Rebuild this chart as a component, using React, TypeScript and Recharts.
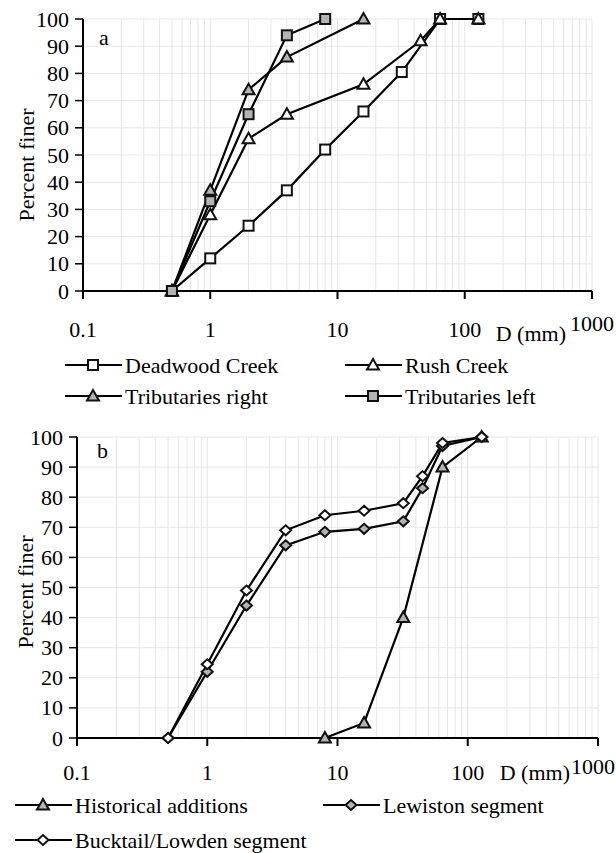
import { LineChart, Line, XAxis, YAxis, CartesianGrid } from 'recharts'

const FONT = "'Liberation Serif', 'DejaVu Serif', 'Times New Roman', Times, serif"
const GREY = '#b4b4b4'

// panel a: grain size (mm) and percent finer
const deadwoodD = [0.5, 1, 2, 4, 8, 16, 32, 64, 128]
const deadwoodPct = [0, 12, 24, 37, 52, 66, 80.5, 100, 100]
const rushD = [0.5, 1, 2, 4, 16, 45, 64, 128]
const rushPct = [0, 28, 56, 65, 76, 92, 100, 100]
const tribRightD = [0.5, 1, 2, 4, 16]
const tribRightPct = [0, 37, 74, 86, 100]
const tribLeftD = [0.5, 1, 2, 4, 8]
const tribLeftPct = [0, 33, 65, 94, 100]

// panel b
const historicalD = [8, 16, 32, 64, 128]
const historicalPct = [0, 5, 40, 90, 100]
const segmentD = [0.5, 1, 2, 4, 8, 16, 32, 45, 64, 128]
const lewistonPct = [0, 22, 44, 64, 68.5, 69.5, 72, 83, 97, 100]
const bucktailPct = [0, 24.5, 49, 69, 74, 75.5, 78, 87, 98, 100]

// axes
const majorD = [0.1, 1, 10, 100, 1000]
const gridD = [
  0.1, 0.2, 0.3, 0.4, 0.5, 0.6, 0.7, 0.8, 0.9,
  1, 2, 3, 4, 5, 6, 7, 8, 9,
  10, 20, 30, 40, 50, 60, 70, 80, 90,
  100, 200, 300, 400, 500, 600, 700, 800, 900, 1000,
]
const pctTicks = [0, 10, 20, 30, 40, 50, 60, 70, 80, 90, 100]

type Shape = 'square' | 'triangle' | 'diamond'

interface Series {
  name: string
  d: number[]
  pct: number[]
  shape: Shape
  fill: string
}

const seriesA: Series[] = [
  { name: 'Deadwood Creek', d: deadwoodD, pct: deadwoodPct, shape: 'square', fill: '#fff' },
  { name: 'Rush Creek', d: rushD, pct: rushPct, shape: 'triangle', fill: '#fff' },
  { name: 'Tributaries right', d: tribRightD, pct: tribRightPct, shape: 'triangle', fill: GREY },
  { name: 'Tributaries left', d: tribLeftD, pct: tribLeftPct, shape: 'square', fill: GREY },
]

const seriesB: Series[] = [
  { name: 'Historical additions', d: historicalD, pct: historicalPct, shape: 'triangle', fill: GREY },
  { name: 'Lewiston segment', d: segmentD, pct: lewistonPct, shape: 'diamond', fill: GREY },
  { name: 'Bucktail/Lowden segment', d: segmentD, pct: bucktailPct, shape: 'diamond', fill: '#fff' },
]

const toRows = (s: Series) => s.d.map((d, i) => ({ d, pct: s.pct[i] }))

const txt = { fontSize: 22, fill: '#000', style: { fontFamily: FONT } }

const Marker = ({ shape, fill, cx, cy }: { shape: Shape; fill: string; cx: number; cy: number }) => {
  const common = { fill, stroke: '#111', strokeWidth: 2 }
  if (shape === 'square') return <rect x={cx - 5} y={cy - 5} width={10} height={10} {...common} />
  if (shape === 'triangle')
    return <polygon points={`${cx},${cy - 6} ${cx + 6},${cy + 4.5} ${cx - 6},${cy + 4.5}`} {...common} />
  return <polygon points={`${cx},${cy - 5} ${cx + 5.5},${cy} ${cx},${cy + 5} ${cx - 5.5},${cy}`} {...common} />
}

const XTick = (props: any) => {
  const { x, y, payload, labelDy, lastX } = props
  if (!majorD.includes(payload.value)) return <g />
  const isLast = payload.value === 1000
  return (
    <g>
      <line x1={x} x2={x} y1={y} y2={y + 8} stroke="#000" strokeWidth={2} />
      <text
        x={isLast ? Math.min(x, lastX) : x}
        y={y + labelDy + (isLast ? -6 : 0)}
        textAnchor="middle"
        {...txt}
      >
        {payload.value}
      </text>
    </g>
  )
}

const YTick = (props: any) => {
  const { x, y, payload } = props
  return (
    <text x={x} y={y} textAnchor="end" dominantBaseline="central" {...txt}>
      {payload.value}
    </text>
  )
}

interface PanelProps {
  series: Series[]
  top: number
  height: number
  marginTop: number
  marginRight: number
  yAxisWidth: number
  xAxisHeight: number
  labelDy: number
  lastX: number
  titleDx: number
  titleDy: number
  yTitleX: number
  yTitleY: number
}

const Panel = (p: PanelProps) => (
  <div style={{ position: 'absolute', left: 0, top: p.top }}>
    <LineChart
      width={616}
      height={p.height}
      margin={{ top: p.marginTop, right: p.marginRight, left: 0, bottom: 0 }}
    >
      <CartesianGrid stroke="#e6e6e6" strokeWidth={1} />
      <XAxis
        dataKey="d"
        type="number"
        scale="log"
        domain={[0.1, 1000]}
        allowDataOverflow
        ticks={gridD}
        interval={0}
        height={p.xAxisHeight}
        axisLine={{ stroke: '#000', strokeWidth: 2 }}
        tickLine={false}
        tickSize={0}
        tickMargin={0}
        tick={<XTick labelDy={p.labelDy} lastX={p.lastX} />}
        label={{
          content: (lp: any) => {
            const vb = lp.viewBox || {}
            return (
              <text
                x={(vb.x ?? 0) + (vb.width ?? 0) + p.titleDx}
                y={(vb.y ?? 0) + p.titleDy}
                textAnchor="end"
                {...txt}
              >
                D (mm)
              </text>
            )
          },
        }}
      />
      <YAxis
        type="number"
        domain={[0, 100]}
        ticks={pctTicks}
        interval={0}
        width={p.yAxisWidth}
        axisLine={{ stroke: '#000', strokeWidth: 2 }}
        tickLine={{ stroke: '#000', strokeWidth: 1.5 }}
        tickSize={8}
        tickMargin={6}
        tick={<YTick />}
        label={{
          content: () => (
            <text
              x={p.yTitleX}
              y={p.yTitleY}
              transform={`rotate(-90, ${p.yTitleX}, ${p.yTitleY})`}
              textAnchor="middle"
              dominantBaseline="central"
              {...txt}
            >
              Percent finer
            </text>
          ),
        }}
      />
      {p.series.map((s) => (
        <Line
          key={s.name}
          data={toRows(s)}
          dataKey="pct"
          name={s.name}
          type="linear"
          stroke="#000"
          strokeWidth={2.2}
          isAnimationActive={false}
          dot={(dp: any) => (
            <Marker key={`${s.name}-${dp.index}`} shape={s.shape} fill={s.fill} cx={dp.cx} cy={dp.cy} />
          )}
          activeDot={false}
        />
      ))}
    </LineChart>
  </div>
)

const LegendItem = ({ s, x, y }: { s: Series; x: number; y: number }) => (
  <g>
    <line x1={x} x2={x + 57} y1={y} y2={y} stroke="#000" strokeWidth={2} />
    <Marker shape={s.shape} fill={s.fill} cx={x + 28} cy={y} />
    <text x={x + 60} y={y} dominantBaseline="central" {...txt}>
      {s.name}
    </text>
  </g>
)

export default function App() {
  return (
    <div
      style={{
        position: 'absolute',
        left: 0,
        top: 0,
        width: 616,
        height: 853,
        background: '#fff',
        overflow: 'hidden',
        fontFamily: FONT,
      }}
    >
      <Panel
        series={seriesA}
        top={0}
        height={360}
        marginTop={19}
        marginRight={24}
        yAxisWidth={83}
        xAxisHeight={69}
        labelDy={46}
        lastX={592}
        titleDx={-26}
        titleDy={50}
        yTitleX={26}
        yTitleY={165}
      />
      <Panel
        series={seriesB}
        top={420}
        height={380}
        marginTop={17}
        marginRight={18}
        yAxisWidth={77}
        xAxisHeight={62}
        labelDy={42}
        lastX={593}
        titleDx={-28}
        titleDy={42}
        yTitleX={25}
        yTitleY={172}
      />
      <svg width={616} height={853} style={{ position: 'absolute', left: 0, top: 0, pointerEvents: 'none' }}>
        <text x={99} y={45} {...txt}>a</text>
        <text x={97} y={458} {...txt}>b</text>
        <LegendItem s={seriesA[0]} x={65} y={365} />
        <LegendItem s={seriesA[1]} x={345} y={365} />
        <LegendItem s={seriesA[2]} x={65} y={396} />
        <LegendItem s={seriesA[3]} x={345} y={396} />
        <LegendItem s={seriesB[0]} x={15} y={805} />
        <LegendItem s={seriesB[1]} x={323} y={805} />
        <LegendItem s={seriesB[2]} x={15} y={840} />
      </svg>
    </div>
  )
}
